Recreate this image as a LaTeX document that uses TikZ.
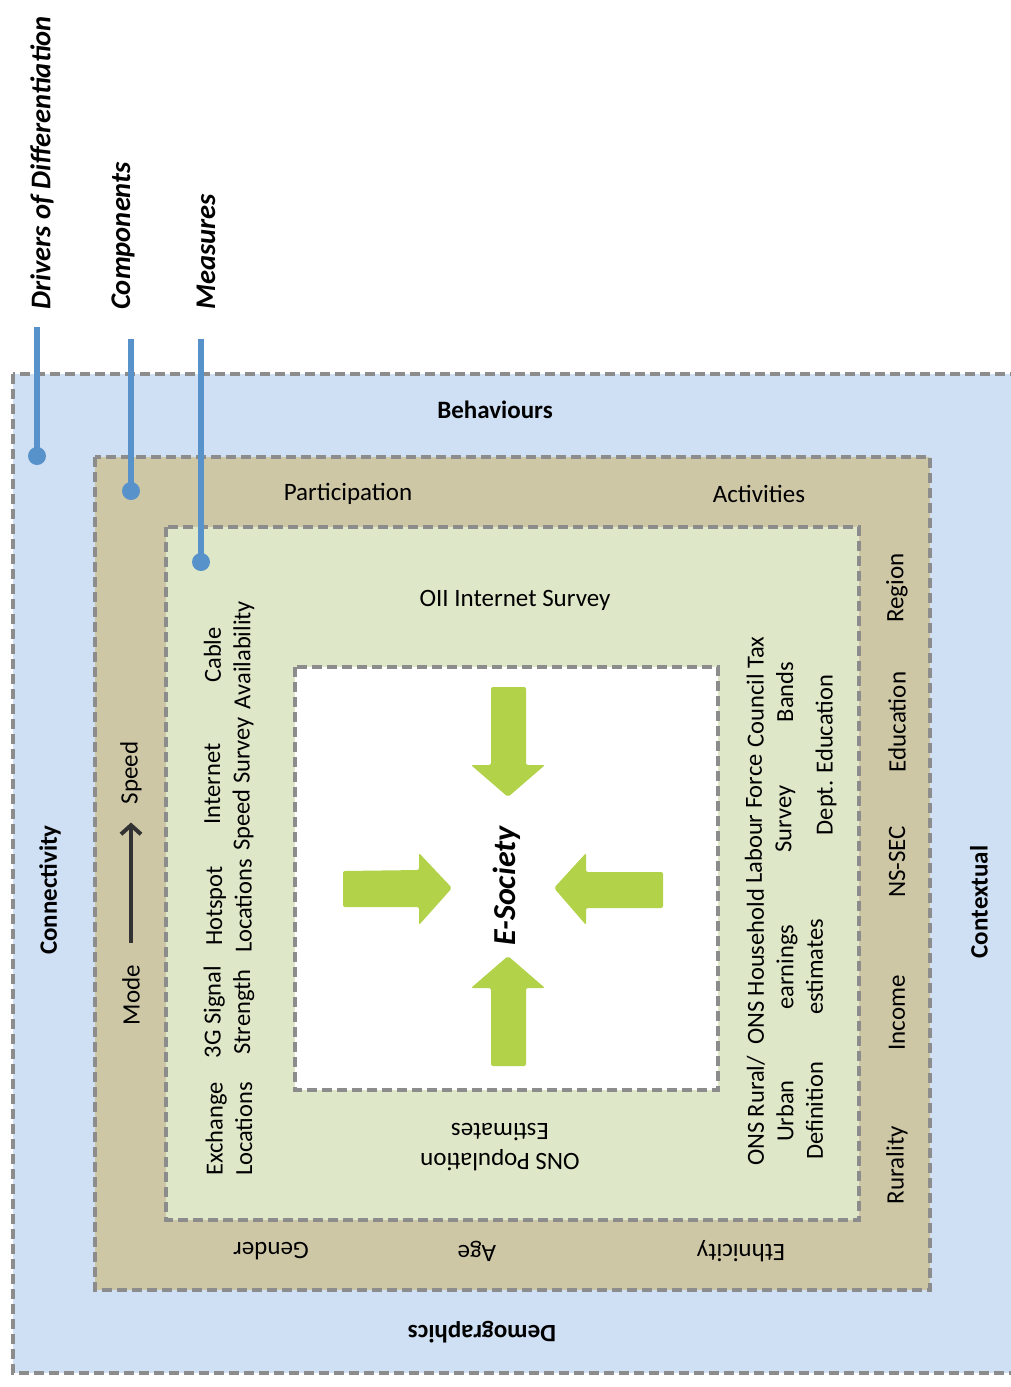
\documentclass[tikz,border=0pt]{standalone}
\usepackage{fontspec}
\setmainfont{Carlito}
\usetikzlibrary{arrows.meta}
\definecolor{bluebg}{RGB}{207,224,244}
\definecolor{tanbg}{RGB}{206,199,166}
\definecolor{greenbg}{RGB}{223,231,201}
\definecolor{dashgray}{RGB}{140,140,140}
\definecolor{leader}{RGB}{88,146,202}
\definecolor{arrowgreen}{RGB}{178,210,74}
\definecolor{darkarrow}{RGB}{50,50,50}
\begin{document}
\begin{tikzpicture}[x=1pt,y=-1pt,
  box/.style={draw=dashgray, line width=3.5pt, dash pattern=on 10pt off 5pt},
  lbl/.style={font=\fontsize{25}{29.5}\selectfont, inner sep=0pt, align=center},
  mlbl/.style={font=\fontsize{24.5}{29.5}\selectfont, inner sep=0pt, align=center},
  blbl/.style={font=\fontsize{25}{29.5}\selectfont\bfseries, inner sep=0pt, align=center},
  title/.style={font=\fontsize{28.5}{32}\selectfont\bfseries\itshape, inner sep=0pt, rotate=90, anchor=west},
  leaderline/.style={draw=leader, line width=5.5pt},
  leaderdot/.style={circle, fill=leader, minimum size=18pt, inner sep=0pt},
  bigarrow/.style={fill=arrowgreen, rounded corners=2pt}
]
\useasboundingbox (0,0) rectangle (1011,1387);
% boxes
\path[box, fill=bluebg] (13,374) rectangle (1040,1373);
\path[box, fill=tanbg] (95,457) rectangle (930,1290);
\path[box, fill=greenbg] (166,527) rectangle (859,1220);
\path[box, fill=white] (295,667) rectangle (718,1090);

% titles and leaders
\node[title] (tdrivers) at (42,310) {Drivers of Differentiation};
\node[title] (tcomp) at (123,310) {Components};
\node[title] (tmeas) at (206,310) {Measures};
\coordinate (ldrivers) at (37,327);
\coordinate (lcomp) at (131,339);
\coordinate (lmeas) at (201,339);
\node[leaderdot] (ddrivers) at (37,456) {};
\node[leaderdot] (dcomp) at (131,491) {};
\node[leaderdot] (dmeas) at (201,562) {};
\draw[leaderline] (ldrivers) -- (ddrivers.center);
\draw[leaderline] (lcomp) -- (dcomp.center);
\draw[leaderline] (lmeas) -- (dmeas.center);

% outer labels
\node[blbl] (behav) at (495,410) {Behaviours};
\node[blbl, rotate=90] (connect) at (50,890) {Connectivity};
\node[blbl, rotate=90] (context) at (979,902) {Contextual};
\node[blbl, rotate=180] (demog) at (482,1332) {Demographics};

% component labels
\node[lbl] (partic) at (348,494) {Participation};
\node[lbl] (activ) at (759,494) {Activities};
\node[lbl, rotate=90] (region) at (897,588) {Region};
\node[lbl, rotate=90] (educ) at (897,722) {Education};
\node[lbl, rotate=90] (nssec) at (897,862) {NS-SEC};
\node[lbl, rotate=90] (income) at (897,1013) {Income};
\node[lbl, rotate=90] (rural) at (897,1165) {Rurality};
\node[lbl, rotate=180] (gender) at (271,1251) {Gender};
\node[lbl, rotate=180] (age) at (477,1251) {Age};
\node[lbl, rotate=180] (ethn) at (741,1251) {Ethnicity};
\node[lbl, rotate=90] (mode) at (131,995) {Mode};
\node[lbl, rotate=90] (speed) at (131,773) {Speed};
\draw[darkarrow, line width=4pt, -{Straight Barb[length=9pt,width=20pt,line width=4pt]}, shorten <=22pt, shorten >=18pt] (mode.east) -- (speed.west);

% measures
\node[lbl] (oii) at (515,600) {OII Internet Survey};
\node[lbl, rotate=180] (onspop) at (500,1147) {ONS Population\\Estimates};
\node[mlbl, rotate=90] (exch) at (229,1129) {Exchange\\Locations};
\node[mlbl, rotate=90] (sig) at (229,1012) {3G Signal\\Strength};
\node[mlbl, rotate=90] (hot) at (229,906) {Hotspot\\Locations};
\node[mlbl, rotate=90] (inet) at (229,784) {Internet\\Speed Survey};
\node[mlbl, rotate=90] (cable) at (229,655) {Cable\\Availability};
\node[mlbl, rotate=90] (onsrural) at (785,1111) {ONS Rural/\\Urban\\Definition};
\node[mlbl, rotate=90] (onshh) at (785,967) {ONS Household\\earnings\\estimates};
\node[mlbl, rotate=90] (lfs) at (770,819) {Labour Force\\Survey};
\node[mlbl, rotate=90] (ctax) at (770,692) {Council Tax\\Bands};
\node[mlbl, rotate=90] (dept) at (826,755) {Dept. Education};

% centre
\node[font=\fontsize{32}{36}\selectfont\bfseries\itshape, rotate=90, inner sep=0pt] (esoc) at (507,886) {E-Society};
\path[bigarrow] (491,687) -- (526,687) -- (526,765) -- (545,765) -- (508,797) -- (471,765) -- (491,765) -- cycle;
\path[bigarrow] (491,1066) -- (526,1066) -- (526,988) -- (545,988) -- (508,956) -- (471,988) -- (491,988) -- cycle;
\path[bigarrow] (343,871) -- (419,870) -- (419,853) -- (452,888) -- (419,925) -- (419,907) -- (343,907) -- cycle;
\path[bigarrow] (663,872) -- (586,872) -- (586,853) -- (554,888) -- (586,925) -- (586,908) -- (663,908) -- cycle;
\end{tikzpicture}
\end{document}
